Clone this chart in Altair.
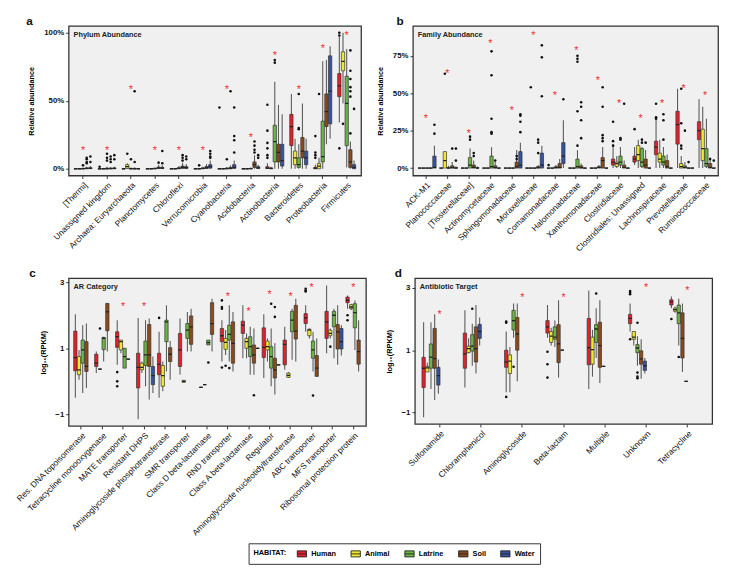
import altair as alt
import pandas as pd

HABITATS = ["Human", "Animal", "Latrine", "Soil", "Water"]
COLORS = ["#E3202B", "#F3E92C", "#6CB443", "#8B4A1E", "#3653A3"]
FONT = "Liberation Sans"

# ---------------- Panel a: Phylum abundance (%) ----------------
A_CATS = ["[Thermi]", "Unassigned kingdom", "Archaea: Euryarchaeota", "Planctomycetes",
          "Chloroflexi", "Verrucomicrobia", "Cyanobacteria", "Acidobacteria",
          "Actinobacteria", "Bacteroidetes", "Proteobacteria", "Firmicutes"]
# (lo, q1, median, q3, hi) per category, in A_CATS order
A_STATS = {
    "Human":   [(0,0,0,0,0), (0,0,0,0,0.2), (0,0,0,0,0.5), (0,0,0,0,0), (0,0,0,0,0), (0,0,0,0,0),
                (0,0,0,0,0), (0,0,0,0,0), (0,0.2,0.5,1.5,4), (0,17,31,40,55), (0,0,0.5,1,3), (34,53,61,70,97)],
    "Animal":  [(0,0,0,0,0), (0,0,0,0,0), (0,0.2,1.5,3,4), (0,0,0,0,0.2), (0,0,0,0,0.2), (0,0,0,0,0.3),
                (0,0,0,0,0.3), (0,0,0,0,0), (0,0,0.2,0.6,1.5), (0,3,8,13,22), (0,0,2,4,8), (48,72,79,86,100)],
    "Latrine": [(0,0,0,0.3,0.8), (0,0,0,0.5,1.5), (0,0,0,0.2,1), (0,0,0.1,0.4,1), (0,0,0.2,0.8,2), (0,0,0.2,0.6,1.5),
                (0,0,0.1,0.5,1.2), (0,0,0.1,0.3,0.8), (0,5,20,32,64), (0,1,3,8,18), (0,5,9,35,79), (1,17,48,68,88)],
    "Soil":    [(0,0,0.2,0.6,1.5), (0,0,0.1,0.5,1.2), (0,0,0,0.3,1), (0,0.2,0.6,1.2,3), (0,0.3,1,2,4.5), (0,0.2,0.8,1.6,3.5),
                (0,0,0.3,1,2.5), (0,1,3,5,10), (0,5,12,18,47), (0,8,13,23,48), (18,31,42,55,80), (0,1,5,14,20)],
    "Water":   [(0,0.1,0.3,0.8,2), (0,0,0.2,0.6,1.5), (0,0,0,0,0.3), (0,0.2,0.5,1,2.5), (0,0.2,0.8,1.5,3.5), (0,0.5,1.5,3,6),
                (0,0.3,1,3,6), (0,0.2,0.6,1.5,3), (0,2,6,18,40), (0,3,8,13,22), (22,33,57,83,90), (0,0,1,3,6)],
}
A_OUT = [("[Thermi]", "Latrine", 2.5), ("[Thermi]", "Soil", 8), ("[Thermi]", "Soil", 7), ("[Thermi]", "Soil", 5),
         ("[Thermi]", "Soil", 4), ("[Thermi]", "Water", 9), ("[Thermi]", "Water", 5),
         ("Unassigned kingdom", "Human", 1.5), ("Unassigned kingdom", "Latrine", 11), ("Unassigned kingdom", "Latrine", 8),
         ("Unassigned kingdom", "Latrine", 6), ("Unassigned kingdom", "Soil", 9), ("Unassigned kingdom", "Soil", 7),
         ("Unassigned kingdom", "Soil", 5), ("Unassigned kingdom", "Water", 10), ("Unassigned kingdom", "Water", 7),
         ("Archaea: Euryarchaeota", "Animal", 11), ("Archaea: Euryarchaeota", "Latrine", 7),
         ("Archaea: Euryarchaeota", "Soil", 57), ("Archaea: Euryarchaeota", "Soil", 5),
         ("Planctomycetes", "Soil", 4.5), ("Planctomycetes", "Water", 13), ("Planctomycetes", "Water", 4),
         ("Chloroflexi", "Soil", 10), ("Chloroflexi", "Soil", 8), ("Chloroflexi", "Soil", 6),
         ("Chloroflexi", "Water", 9), ("Chloroflexi", "Water", 7),
         ("Verrucomicrobia", "Animal", 2.5), ("Verrucomicrobia", "Water", 13), ("Verrucomicrobia", "Water", 11),
         ("Verrucomicrobia", "Water", 9), ("Verrucomicrobia", "Water", 8),
         ("Cyanobacteria", "Human", 45), ("Cyanobacteria", "Latrine", 7), ("Cyanobacteria", "Soil", 57),
         ("Cyanobacteria", "Water", 45), ("Cyanobacteria", "Water", 24), ("Cyanobacteria", "Water", 21),
         ("Cyanobacteria", "Water", 12),
         ("Acidobacteria", "Soil", 20), ("Acidobacteria", "Soil", 17), ("Acidobacteria", "Soil", 14),
         ("Acidobacteria", "Soil", 12), ("Acidobacteria", "Water", 10), ("Acidobacteria", "Water", 8),
         ("Actinobacteria", "Human", 47), ("Actinobacteria", "Human", 28), ("Actinobacteria", "Human", 19),
         ("Actinobacteria", "Human", 15), ("Actinobacteria", "Human", 10), ("Actinobacteria", "Human", 8),
         ("Actinobacteria", "Latrine", 80), ("Actinobacteria", "Latrine", 78),
         ("Bacteroidetes", "Latrine", 55), ("Bacteroidetes", "Latrine", 30), ("Bacteroidetes", "Latrine", 29),
         ("Proteobacteria", "Human", 24), ("Proteobacteria", "Human", 12), ("Proteobacteria", "Human", 10),
         ("Proteobacteria", "Human", 8), ("Proteobacteria", "Animal", 55),
         ("Firmicutes", "Human", 100), ("Firmicutes", "Human", 98), ("Firmicutes", "Human", 15),
         ("Firmicutes", "Animal", 33), ("Firmicutes", "Soil", 87), ("Firmicutes", "Soil", 72),
         ("Firmicutes", "Soil", 66), ("Firmicutes", "Soil", 60), ("Firmicutes", "Soil", 57),
         ("Firmicutes", "Soil", 53), ("Firmicutes", "Soil", 26), ("Firmicutes", "Water", 44)]
A_STARS = [15, 15, 60, 15, 15, 15, 60, 25, 85, 60, 90, 100]

# ---------------- Panel b: Family abundance (%) ----------------
B_CATS = ["ACK-M1", "Planococcaceae", "[Tissierellaceae]", "Actinomycetaceae", "Sphingomonadaceae",
          "Moraxellaceae", "Comamonadaceae", "Halomonadaceae", "Xanthomonadaceae", "Clostridiaceae",
          "Clostridiales: Unassigned", "Lachnospiraceae", "Prevotellaceae", "Ruminococcaceae"]
Z = (0, 0, 0, 0, 0)
B_STATS = {
    "Human":   [Z, Z, Z, Z, Z, Z, Z, Z, Z, (0,2,4,6,16), (2,4,6,8,14), (0,9,14,18,33), (0,16,29,38,53), (0,19,25,31,46)],
    "Animal":  [Z, (0,0,5,11,11), Z, Z, Z, Z, Z, Z, Z, (0,1,3,4,8), (0,5,9,15,19), (0,4,6,10,19), (0,0,1,3,8), (0,5,13,26,41)],
    "Latrine": [Z, (0,0,0,0.5,1.5), (0,0,2,7,13), (0,0,1,8,14), Z, Z, (0,0,0.3,1,2), (0,0,1,6,12), (0,0,0.5,1,2),
                (0,2,4,8,14), (0,1,4,13,14), (0,2,4,8,14), (0,0,0.5,1.5,4), (0,1,3,13,33)],
    "Soil":    [Z, (0,0,0.3,1.5,4), (0,0,0.5,2,5), (0,0,0.3,1.5,4), (0,0,1,4,12), (0,0,0.3,1,2), (0,0,0.5,3,6),
                (0,0,0.3,1.5,3), (0,0,5,7,14), (0,0,0.5,2,5), (0,0,2,6,12), (0,0,1,5,9), Z, (0,0,0.5,3,7)],
    "Water":   [(0,0,0.5,8,15), (0,0,0,0.5,1), (0,0,0,0.3,1), Z, (0,0,2,11,17), (0,0,2,10,15), (0,3,8,17,32),
                Z, Z, Z, Z, Z, Z, Z],
}
B_OUT = [("ACK-M1", "Water", 29), ("ACK-M1", "Water", 23),
         ("Planococcaceae", "Animal", 63), ("Planococcaceae", "Soil", 13), ("Planococcaceae", "Water", 13),
         ("Planococcaceae", "Water", 5),
         ("[Tissierellaceae]", "Latrine", 21), ("[Tissierellaceae]", "Latrine", 19), ("[Tissierellaceae]", "Soil", 10),
         ("[Tissierellaceae]", "Soil", 8),
         ("Actinomycetaceae", "Latrine", 78), ("Actinomycetaceae", "Latrine", 62), ("Actinomycetaceae", "Latrine", 33),
         ("Actinomycetaceae", "Latrine", 24), ("Actinomycetaceae", "Latrine", 23), ("Actinomycetaceae", "Soil", 5),
         ("Sphingomonadaceae", "Soil", 8), ("Sphingomonadaceae", "Soil", 6), ("Sphingomonadaceae", "Water", 36),
         ("Sphingomonadaceae", "Water", 35), ("Sphingomonadaceae", "Water", 31), ("Sphingomonadaceae", "Water", 24),
         ("Moraxellaceae", "Animal", 54), ("Moraxellaceae", "Soil", 19), ("Moraxellaceae", "Soil", 17),
         ("Moraxellaceae", "Soil", 10), ("Moraxellaceae", "Water", 82), ("Moraxellaceae", "Water", 74),
         ("Moraxellaceae", "Water", 48),
         ("Comamonadaceae", "Human", 2), ("Comamonadaceae", "Water", 46),
         ("Halomonadaceae", "Latrine", 75), ("Halomonadaceae", "Latrine", 73), ("Halomonadaceae", "Latrine", 71),
         ("Halomonadaceae", "Soil", 44), ("Halomonadaceae", "Soil", 41), ("Halomonadaceae", "Latrine", 38),
         ("Halomonadaceae", "Soil", 32), ("Halomonadaceae", "Soil", 20), ("Halomonadaceae", "Latrine", 15),
         ("Xanthomonadaceae", "Soil", 54), ("Xanthomonadaceae", "Soil", 41), ("Xanthomonadaceae", "Soil", 22),
         ("Xanthomonadaceae", "Soil", 20), ("Xanthomonadaceae", "Soil", 18),
         ("Clostridiaceae", "Human", 31), ("Clostridiaceae", "Human", 18), ("Clostridiaceae", "Human", 15),
         ("Clostridiaceae", "Latrine", 20), ("Clostridiaceae", "Latrine", 19), ("Clostridiaceae", "Soil", 43),
         ("Clostridiales: Unassigned", "Human", 26), ("Clostridiales: Unassigned", "Latrine", 19),
         ("Clostridiales: Unassigned", "Latrine", 17), ("Clostridiales: Unassigned", "Soil", 17),
         ("Lachnospiraceae", "Human", 43), ("Lachnospiraceae", "Human", 34), ("Lachnospiraceae", "Human", 33),
         ("Lachnospiraceae", "Latrine", 36), ("Lachnospiraceae", "Latrine", 32), ("Lachnospiraceae", "Latrine", 19),
         ("Prevotellaceae", "Animal", 53), ("Prevotellaceae", "Animal", 30), ("Prevotellaceae", "Animal", 15),
         ("Prevotellaceae", "Animal", 13), ("Prevotellaceae", "Latrine", 25), ("Prevotellaceae", "Soil", 4),
         ("Ruminococcaceae", "Soil", 6), ("Ruminococcaceae", "Water", 5)]
B_STARS = [35, 65, 25, 85, 40, 90, 50, 80, 60, 45, 35, 45, 55, 50]

# ---------------- Panel c: AR category (log10 RPKM) ----------------
C_CATS = ["Res. DNA topoisomerase", "Tetracycline monooxygenase", "MATE transporter", "Resistant DHPS",
          "Aminoglycoside phosphotransferase", "SMR transporter", "Class D beta-lactamase", "RND transporter",
          "Class A beta-lactamase", "Regulator", "Aminoglycoside nucleotidyltransferase", "ABC transporter",
          "MFS transporter", "Ribosomal protection protein"]
# (category, habitat, lo, q1, median, q3, hi)
C_BOXES = [
    ("Res. DNA topoisomerase", "Human", -0.5, 0.32, 0.72, 1.52, 2.03),
    ("Res. DNA topoisomerase", "Animal", 0.05, 0.2, 0.35, 0.75, 0.95),
    ("Res. DNA topoisomerase", "Latrine", -0.35, 0.55, 0.95, 1.25, 1.7),
    ("Res. DNA topoisomerase", "Soil", -0.2, 0.3, 0.45, 1.2, 1.75),
    ("Tetracycline monooxygenase", "Human", 0.25, 0.45, 0.55, 0.82, 0.9),
    ("Tetracycline monooxygenase", "Animal", 0.37, 0.37, 0.37, 0.37, 0.37),
    ("Tetracycline monooxygenase", "Latrine", 0.6, 0.96, 1.3, 1.33, 1.35),
    ("Tetracycline monooxygenase", "Soil", 0.9, 1.53, 2.1, 2.36, 2.36),
    ("MATE transporter", "Human", 0.5, 1.03, 1.35, 1.5, 1.85),
    ("MATE transporter", "Animal", 0.85, 0.95, 1.2, 1.25, 1.25),
    ("MATE transporter", "Latrine", 0.4, 0.4, 0.75, 1.0, 1.0),
    ("MATE transporter", "Soil", 0.67, 0.67, 0.67, 0.67, 0.67),
    ("Resistant DHPS", "Human", -1.15, -0.2, 0.42, 0.85, 1.92),
    ("Resistant DHPS", "Animal", 0.25, 0.35, 0.42, 0.55, 0.6),
    ("Resistant DHPS", "Latrine", -0.15, 0.48, 0.8, 1.22, 1.85),
    ("Resistant DHPS", "Soil", -0.55, 0.45, 0.8, 1.72, 1.9),
    ("Resistant DHPS", "Water", -0.35, -0.1, 0.17, 0.45, 0.75),
    ("Aminoglycoside phosphotransferase", "Human", -0.5, 0.2, 0.52, 0.85, 1.5),
    ("Aminoglycoside phosphotransferase", "Animal", -0.3, -0.15, 0.17, 0.48, 0.6),
    ("Aminoglycoside phosphotransferase", "Latrine", 0.3, 1.2, 1.8, 1.85, 2.3),
    ("Aminoglycoside phosphotransferase", "Soil", 0.05, 0.6, 0.82, 1.02, 1.22),
    ("SMR transporter", "Human", 0.2, 0.45, 0.95, 1.45, 1.9),
    ("SMR transporter", "Animal", -0.03, -0.03, 0.0, 0.03, 0.03),
    ("SMR transporter", "Latrine", 0.9, 1.3, 1.55, 1.75, 2.1),
    ("SMR transporter", "Soil", 0.9, 1.12, 1.65, 1.98, 2.2),
    ("Class D beta-lactamase", "Human", -0.18, -0.18, -0.18, -0.18, -0.18),
    ("Class D beta-lactamase", "Animal", -0.1, -0.1, -0.1, -0.1, -0.1),
    ("Class D beta-lactamase", "Latrine", 1.1, 1.1, 1.17, 1.25, 1.25),
    ("Class D beta-lactamase", "Soil", 0.9, 1.42, 1.75, 2.38, 2.5),
    ("RND transporter", "Human", 0.6, 1.2, 1.38, 1.6, 1.85),
    ("RND transporter", "Animal", 0.8, 0.97, 1.18, 1.3, 1.55),
    ("RND transporter", "Latrine", 0.6, 1.25, 1.42, 1.7, 2.3),
    ("RND transporter", "Soil", 0.3, 0.55, 1.15, 1.8, 2.1),
    ("Class A beta-lactamase", "Human", 0.7, 1.45, 1.7, 1.82, 2.3),
    ("Class A beta-lactamase", "Animal", 0.7, 1.0, 1.2, 1.3, 1.45),
    ("Class A beta-lactamase", "Latrine", 0.2, 0.75, 1.05, 1.35, 1.65),
    ("Class A beta-lactamase", "Soil", 0.2, 0.55, 0.8, 1.1, 1.6),
    ("Class A beta-lactamase", "Water", 1.0, 1.0, 1.0, 1.0, 1.0),
    ("Regulator", "Human", 0.1, 0.72, 1.03, 1.62, 2.03),
    ("Regulator", "Animal", 0.6, 0.95, 1.05, 1.22, 1.3),
    ("Regulator", "Latrine", -0.15, 0.4, 0.75, 1.05, 1.6),
    ("Regulator", "Soil", -0.4, 0.1, 0.35, 0.7, 1.15),
    ("Regulator", "Water", 0.5, 0.5, 0.5, 0.5, 0.5),
    ("Aminoglycoside nucleotidyltransferase", "Human", 0.35, 0.5, 1.12, 1.25, 1.65),
    ("Aminoglycoside nucleotidyltransferase", "Animal", 0.1, 0.12, 0.18, 0.25, 0.28),
    ("Aminoglycoside nucleotidyltransferase", "Latrine", 0.65, 1.5, 1.85, 2.12, 2.2),
    ("Aminoglycoside nucleotidyltransferase", "Soil", 0.6, 1.28, 1.52, 2.3, 2.5),
    ("ABC transporter", "Human", 1.5, 1.75, 1.92, 2.05, 2.3),
    ("ABC transporter", "Animal", 1.3, 1.38, 1.55, 1.58, 1.6),
    ("ABC transporter", "Latrine", 0.3, 0.7, 0.95, 1.22, 1.5),
    ("ABC transporter", "Soil", 0.15, 0.15, 0.4, 0.78, 1.3),
    ("MFS transporter", "Human", 0.85, 1.3, 1.8, 2.12, 2.9),
    ("MFS transporter", "Animal", 1.3, 1.38, 1.45, 1.55, 1.6),
    ("MFS transporter", "Latrine", 0.7, 1.65, 2.0, 2.12, 2.2),
    ("MFS transporter", "Soil", 0.5, 0.98, 1.5, 1.72, 2.3),
    ("MFS transporter", "Water", 0.78, 0.98, 1.2, 1.6, 1.7),
    ("Ribosomal protection protein", "Human", 2.2, 2.38, 2.45, 2.55, 2.6),
    ("Ribosomal protection protein", "Animal", 2.15, 2.2, 2.25, 2.32, 2.35),
    ("Ribosomal protection protein", "Latrine", 0.95, 1.62, 2.08, 2.35, 2.45),
    ("Ribosomal protection protein", "Soil", 0.3, 0.52, 0.9, 1.25, 1.85),
]
C_OUT = [("Tetracycline monooxygenase", "Animal", 1.6),
         ("MATE transporter", "Human", 0.28), ("MATE transporter", "Human", 0.0), ("MATE transporter", "Human", -0.15),
         ("Aminoglycoside phosphotransferase", "Human", 1.92),
         ("Class D beta-lactamase", "Latrine", 0.57),
         ("RND transporter", "Human", 2.45), ("RND transporter", "Human", 2.25), ("RND transporter", "Human", 2.2),
         ("RND transporter", "Human", 0.42), ("RND transporter", "Animal", 0.47), ("RND transporter", "Latrine", 0.4),
         ("Class A beta-lactamase", "Soil", -0.42),
         ("Regulator", "Latrine", 2.35), ("Regulator", "Soil", 2.25), ("Regulator", "Soil", 1.95),
         ("ABC transporter", "Human", 2.8), ("ABC transporter", "Human", 2.75), ("ABC transporter", "Human", 2.72),
         ("ABC transporter", "Latrine", -0.43),
         ("MFS transporter", "Animal", 1.05),
         ("Ribosomal protection protein", "Human", 2.0), ("Ribosomal protection protein", "Human", 1.85)]
C_STARS = [None, None, 2.35, 2.35, None, None, None, 2.65, 2.2, 2.7, 2.63, 2.9, None, 2.9]

# ---------------- Panel d: Antibiotic target (log10 RPKM) ----------------
D_CATS = ["Sulfonamide", "Chloramphenicol", "Aminoglycoside", "Beta-lactam", "Multiple", "Unknown", "Tetracycline"]
D_BOXES = [
    ("Sulfonamide", "Human", -1.15, -0.2, 0.42, 0.77, 1.9),
    ("Sulfonamide", "Animal", 0.3, 0.3, 0.43, 0.48, 0.6),
    ("Sulfonamide", "Latrine", -0.25, 0.42, 0.78, 1.2, 1.9),
    ("Sulfonamide", "Soil", -0.6, 0.42, 0.73, 1.7, 2.15),
    ("Sulfonamide", "Water", -0.4, -0.12, 0.18, 0.45, 0.7),
    ("Chloramphenicol", "Human", -0.2, 0.42, 0.88, 1.55, 2.28),
    ("Chloramphenicol", "Animal", 0.9, 0.92, 1.05, 1.13, 1.38),
    ("Chloramphenicol", "Latrine", 0.5, 0.97, 1.13, 1.5, 1.85),
    ("Chloramphenicol", "Soil", 0.25, 0.62, 1.05, 1.75, 2.45),
    ("Chloramphenicol", "Water", 1.15, 1.38, 1.6, 1.83, 2.05),
    ("Aminoglycoside", "Human", -0.35, 0.45, 0.62, 1.0, 1.6),
    ("Aminoglycoside", "Animal", -0.35, 0.25, 0.65, 0.85, 1.1),
    ("Aminoglycoside", "Latrine", 1.4, 1.65, 1.95, 2.28, 2.5),
    ("Aminoglycoside", "Soil", 0.0, 1.0, 1.52, 2.05, 2.5),
    ("Beta-lactam", "Human", 1.4, 1.55, 1.75, 1.95, 2.45),
    ("Beta-lactam", "Animal", 1.15, 1.25, 1.45, 1.6, 1.72),
    ("Beta-lactam", "Latrine", 1.1, 1.35, 1.42, 1.75, 1.95),
    ("Beta-lactam", "Soil", 0.12, 0.6, 1.2, 1.82, 2.6),
    ("Beta-lactam", "Water", 1.0, 1.0, 1.0, 1.0, 1.0),
    ("Multiple", "Human", -0.25, 0.53, 1.08, 2.02, 2.92),
    ("Multiple", "Animal", 0.15, 0.55, 1.02, 1.42, 1.65),
    ("Multiple", "Latrine", 0.75, 1.25, 1.68, 1.82, 2.35),
    ("Multiple", "Soil", -0.05, 0.45, 1.15, 1.9, 2.6),
    ("Multiple", "Water", 0.48, 0.48, 0.48, 0.48, 0.48),
    ("Unknown", "Human", 1.6, 1.85, 2.02, 2.15, 2.5),
    ("Unknown", "Animal", 1.15, 1.35, 1.42, 1.6, 1.6),
    ("Unknown", "Latrine", 0.5, 0.92, 1.07, 1.18, 1.45),
    ("Unknown", "Soil", 0.08, 0.55, 0.72, 0.98, 1.35),
    ("Unknown", "Water", 0.25, 0.35, 0.5, 0.65, 0.75),
    ("Tetracycline", "Human", 2.35, 2.45, 2.55, 2.62, 2.72),
    ("Tetracycline", "Animal", 2.2, 2.25, 2.3, 2.35, 2.4),
    ("Tetracycline", "Latrine", 1.15, 1.85, 2.2, 2.45, 2.65),
    ("Tetracycline", "Soil", 0.3, 0.75, 1.38, 2.2, 2.5),
    ("Tetracycline", "Water", 0.0, 0.0, 0.0, 0.0, 0.0),
]
D_OUT = [("Chloramphenicol", "Latrine", 2.33),
         ("Aminoglycoside", "Human", 1.92), ("Aminoglycoside", "Human", 1.88), ("Aminoglycoside", "Human", -0.5),
         ("Aminoglycoside", "Latrine", 0.47),
         ("Beta-lactam", "Human", 0.95), ("Beta-lactam", "Human", 0.55), ("Beta-lactam", "Human", 0.12),
         ("Multiple", "Latrine", 2.82),
         ("Unknown", "Human", 2.9), ("Unknown", "Human", 2.85), ("Unknown", "Human", 2.8), ("Unknown", "Human", 1.35),
         ("Unknown", "Latrine", 1.88), ("Unknown", "Latrine", 0.28), ("Unknown", "Latrine", 0.15),
         ("Unknown", "Latrine", 0.1),
         ("Tetracycline", "Human", 2.0), ("Tetracycline", "Latrine", 0.78)]
D_STARS = [2.22, None, 2.78, 2.78, None, 3.08, 3.0]


def stats_to_rows(cats, stats):
    rows = []
    for hab in HABITATS:
        for cat, s in zip(cats, stats[hab]):
            rows.append((cat, hab) + tuple(s))
    return rows


def make_panel(cats, boxes, outs, stars, letter, letter_dx, name, dom, ticks, ytitle, pct, w, h):
    bdf = pd.DataFrame(boxes, columns=["cat", "hab", "lo", "q1", "med", "q3", "hi"])
    odf = pd.DataFrame(outs, columns=["cat", "hab", "v"])
    sdf = pd.DataFrame({"cat": cats, "v": stars}).dropna()
    xs = alt.X("cat:N", sort=cats,
               scale=alt.Scale(domain=cats, paddingInner=0, paddingOuter=0.1),
               axis=alt.Axis(title=None, labelAngle=-45, labelFontSize=8.5, labelColor="#111111",
                             tickColor="#333", tickSize=3, domain=False, labelPadding=2))
    xo = alt.XOffset("hab:N", scale=alt.Scale(domain=HABITATS, paddingInner=0.1, paddingOuter=0.8))
    yscale = alt.Scale(domain=dom, nice=False, zero=False)
    lab_expr = "datum.value + '%'" if pct else "format(datum.value, 'd')"
    yaxis = alt.Axis(title=ytitle, values=ticks, labelExpr=lab_expr, grid=False, domain=False,
                     labelOverlap=False,
                     tickColor="#333", tickSize=3, labelFontSize=8, labelFontWeight="bold",
                     labelColor="#111111", titleFontSize=7.5, titleFontWeight="bold", titlePadding=8)
    whisk = alt.Chart(bdf).mark_rule(color="#5a5a5a", strokeWidth=1.1).encode(
        x=xs, xOffset=xo, y=alt.Y("lo:Q", scale=yscale, axis=yaxis), y2="hi:Q")
    box = alt.Chart(bdf).mark_bar(stroke="#333", strokeWidth=0.7, opacity=1).encode(
        x=xs, xOffset=xo, y="q1:Q", y2="q3:Q",
        color=alt.Color("hab:N", scale=alt.Scale(domain=HABITATS, range=COLORS),
                        legend=alt.Legend(title="HABITAT:", orient="none", legendX=184, legendY=529,
                                          direction="horizontal",
                                          titleOrient="left",
                                          symbolType="M-1,-0.65H1V0.65H-1Z M-1,0H1",
                                          symbolSize=90,
                                          symbolStrokeColor="#222", symbolStrokeWidth=0.9,
                                          labelFontWeight="bold", titleFontWeight="bold",
                                          labelFontSize=7.5, titleFontSize=7.5, titlePadding=10,
                                          strokeColor="#333", padding=5, columnPadding=12)))
    med = alt.Chart(bdf).mark_bar(stroke="#222", strokeWidth=1.3, fillOpacity=0).encode(
        x=xs, xOffset=xo, y="med:Q", y2="med:Q")
    pts = alt.Chart(odf).mark_circle(size=7, color="#111", opacity=1).encode(
        x=xs, xOffset=xo, y="v:Q")
    st = alt.Chart(sdf).mark_text(text="*", color="#F03030", fontSize=11, dy=3).encode(
        x=xs, y="v:Q")
    lab = alt.Chart(pd.DataFrame({"t": [name]})).mark_text(
        align="left", baseline="top", fontWeight="bold", fontSize=7.5, color="#222").encode(
        x=alt.value(5), y=alt.value(5), text="t:N")
    let = alt.Chart(pd.DataFrame({"t": [letter]})).mark_text(
        align="center", baseline="middle", fontWeight="bold", fontSize=12, color="#111").encode(
        x=alt.value(letter_dx), y=alt.value(-5), text="t:N")
    return alt.layer(whisk, box, med, pts, st, lab, let).properties(width=w, height=h)


pa = make_panel(A_CATS, stats_to_rows(A_CATS, A_STATS), A_OUT, A_STARS, "a", -40, "Phylum Abundance",
                [-5, 105], [0, 25, 50, 75, 100], "Relative abundance", True, 299, 153)
pb = make_panel(B_CATS, stats_to_rows(B_CATS, B_STATS), B_OUT, B_STARS, "b", -13, "Family Abundance",
                [-5, 95], [0, 25, 50, 75], "Relative abundance", True, 312, 153)
pc = make_panel(C_CATS, C_BOXES, C_OUT, C_STARS, "c", -37, "AR Category",
                [-1.35, 3.12], [-1, 0, 1, 2, 3], "log₁₀(RPKM)", False, 304, 151)
pd_ = make_panel(D_CATS, D_BOXES, D_OUT, D_STARS, "d", -17, "Antibiotic Target",
                 [-1.37, 3.31], [-1, 0, 1, 2, 3], "log₁₀(RPKM)", False, 304, 149)

chart = alt.vconcat(
    alt.hconcat(pa, pb, spacing=14),
    alt.hconcat(pc, pd_, spacing=18),
    spacing=13,
).configure(font=FONT).configure_view(
    fill="#F0F0F0", stroke="#333333", strokeWidth=1.3
).configure_legend(labelFont=FONT, titleFont=FONT).configure_axis(
    labelFont=FONT, titleFont=FONT, labelColor="#111111"
).configure_title(font=FONT).properties(
    background="white", padding={"left": 5, "top": 0, "right": 2, "bottom": 0})

chart.save("out.html", embed_options={"renderer": "svg", "actions": False})
